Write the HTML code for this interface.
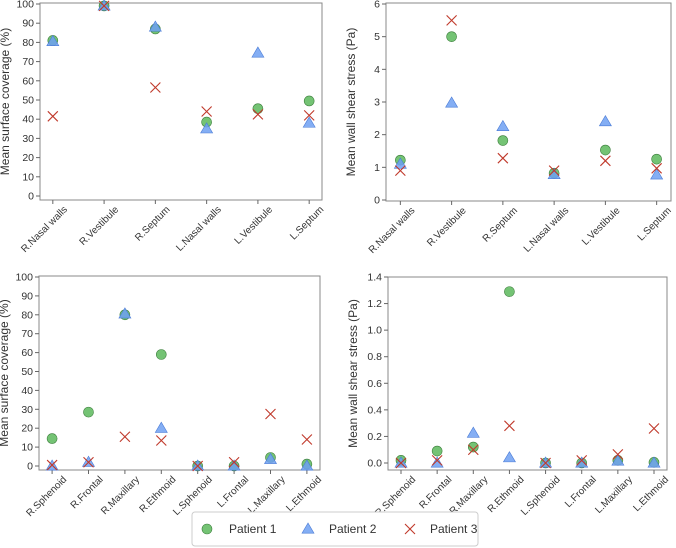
<!DOCTYPE html>
<html><head><meta charset="utf-8">
<style>
html,body{margin:0;padding:0;background:#fff;}
svg{display:block;font-family:"Liberation Sans",sans-serif;}
</style></head>
<body>
<svg id="chart" width="676" height="548" viewBox="0 0 676 548" xmlns="http://www.w3.org/2000/svg"></svg>
<script>
const catsNasal = ["R.Nasal walls","R.Vestibule","R.Septum","L.Nasal walls","L.Vestibule","L.Septum"];
const catsSinus = ["R.Sphenoid","R.Frontal","R.Maxillary","R.Ethmoid","L.Sphenoid","L.Frontal","L.Maxillary","L.Ethmoid"];
const covNasalP1 = [81, 99, 87, 38.5, 45.5, 49.5];
const covNasalP2 = [80.5, 99, 88, 35, 74.5, 38];
const covNasalP3 = [41.5, 99, 56.5, 44, 42.5, 42];
const wssNasalP1 = [1.22, 5.0, 1.82, 0.82, 1.53, 1.25];
const wssNasalP2 = [1.1, 2.97, 2.25, 0.78, 2.4, 0.77];
const wssNasalP3 = [0.9, 5.5, 1.28, 0.9, 1.2, 0.97];
const covSinusP1 = [14.5, 28.5, 80, 59, 0, 0, 4.5, 1];
const covSinusP2 = [0, 2, 80.5, 20, 0, 0, 3.5, 0];
const covSinusP3 = [0.5, 2, 15.5, 13.5, 0, 2, 27.5, 14];
const wssSinusP1 = [0.02, 0.09, 0.12, 1.29, 0, 0, 0.02, 0.005];
const wssSinusP2 = [0, 0, 0.225, 0.04, 0, 0, 0.015, 0];
const wssSinusP3 = [0, 0.02, 0.1, 0.28, 0, 0.02, 0.065, 0.26];
const ticksCov = [0,10,20,30,40,50,60,70,80,90,100];
const ticksWssNasal = [0,1,2,3,4,5,6];
const ticksWssSinus = ["0.0","0.2","0.4","0.6","0.8","1.0","1.2","1.4"];

const NS="http://www.w3.org/2000/svg";
const svg=document.getElementById('chart');
function mk(tag,attrs,parent){const e=document.createElementNS(NS,tag);for(const k in attrs)e.setAttribute(k,attrs[k]);(parent||svg).appendChild(e);return e;}

function circle(g,x,y){const e=mk('circle',{cx:x,cy:y,r:5,fill:'#5cb85c','fill-opacity':0.85,stroke:'#3d7f3d','stroke-width':0.6},g);

}
function tri(g,x,y){const s=6;const e=mk('polygon',{points:`${x},${y-s} ${x-s},${y+s*0.7} ${x+s},${y+s*0.7}`,fill:'#6fa0f2','fill-opacity':0.85,stroke:'#4a7bd6','stroke-width':0.6},g);

}
function cross(g,x,y){const s=5;const e=mk('path',{d:`M${x-s},${y-s}L${x+s},${y+s}M${x-s},${y+s}L${x+s},${y-s}`,stroke:'#c0392b','stroke-width':1.1,fill:'none'},g);

}

function panel(name,box,cats,pad,ymin,ymax,y0px,y1px,ticks,ylabel,series){
  const g=mk('g',{});
  
  
  const n=cats.length;
  const xs=i=>box.x0+(i+pad)*(box.x1-box.x0)/(n-1+2*pad);
  const ys=v=>y0px+(v-ymin)*(y1px-y0px)/(ymax-ymin);
  const fr=mk('rect',{x:box.x0,y:box.y0,width:box.x1-box.x0,height:box.y1-box.y0,fill:'none',stroke:'#888','stroke-width':1},g);
  
  
  ticks.forEach(t=>{const v=parseFloat(t);const y=ys(v);
    mk('line',{x1:box.x0-4,x2:box.x0,y1:y,y2:y,stroke:'#666','stroke-width':1},g);
    const tx=mk('text',{x:box.x0-6,y:y+3.5,'font-size':10.5,'text-anchor':'end',fill:'#333'},g);tx.textContent=t;
    
    });
  cats.forEach((c,i)=>{const x=xs(i);
    mk('line',{x1:x,x2:x,y1:box.y1,y2:box.y1+4,stroke:'#666','stroke-width':1},g);
    const ax=x+15, ay=box.y1+10;
    const tx=mk('text',{x:ax,y:ay,'font-size':10,'text-anchor':'end',fill:'#333',transform:`rotate(-45 ${ax} ${ay})`},g);tx.textContent=c;
    
    });
  const cy=(box.y0+box.y1)/2, lx=box.x0-31;
  const yl=mk('text',{x:lx,y:cy,'font-size':12,'text-anchor':'middle',fill:'#333',transform:`rotate(-90 ${lx} ${cy})`},g);yl.textContent=ylabel;
  
  
  series[0].forEach((v,i)=>circle(g,xs(i),ys(v)));
  series[1].forEach((v,i)=>tri(g,xs(i),ys(v)));
  series[2].forEach((v,i)=>cross(g,xs(i),ys(v)));
}
panel('coverage-nasal-panel',{x0:40,x1:322,y0:3,y1:200},catsNasal,0.25,0,100,196,4,ticksCov.map(String),'Mean surface coverage (%)',[covNasalP1,covNasalP2,covNasalP3]);
panel('wss-nasal-panel',{x0:386,x1:671,y0:3,y1:201},catsNasal,0.28,0,6,200,4,ticksWssNasal.map(String),'Mean wall shear stress (Pa)',[wssNasalP1,wssNasalP2,wssNasalP3]);
panel('coverage-sinus-panel',{x0:39,x1:320,y0:276,y1:470},catsSinus,0.36,0,100,466,277,ticksCov.map(String),'Mean surface coverage (%)',[covSinusP1,covSinusP2,covSinusP3]);
panel('wss-sinus-panel',{x0:388,x1:667,y0:277,y1:470},catsSinus,0.36,0,1.4,463,277,ticksWssSinus,'Mean wall shear stress (Pa)',[wssSinusP1,wssSinusP2,wssSinusP3]);

const lg=mk('g',{});


const lr=mk('rect',{x:192,y:512,width:286,height:34,rx:3,fill:'#fff',stroke:'#ccc','stroke-width':1},lg);


circle(lg,207,529);tri(lg,308,529);cross(lg,410,529);
[["Patient 1",229],["Patient 2",329],["Patient 3",430]].forEach(([t,x])=>{
  const e=mk('text',{x:x,y:533,'font-size':12,fill:'#333'},lg);e.textContent=t;
  
  });
</script>
</body></html>
